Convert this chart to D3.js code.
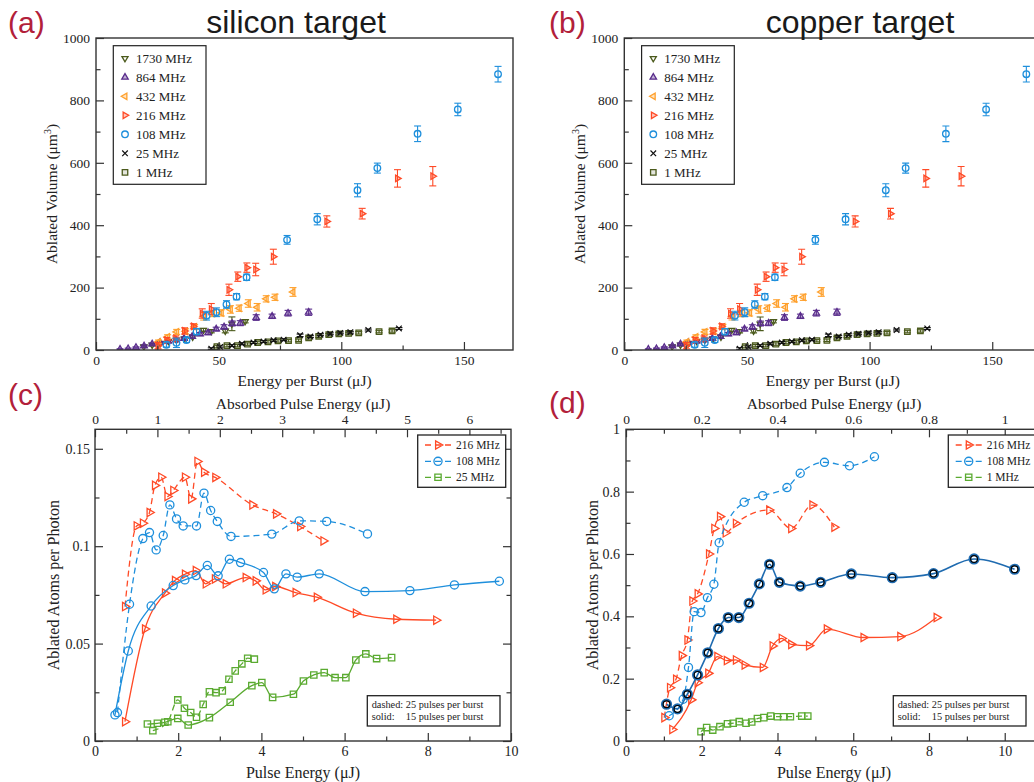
<!DOCTYPE html>
<html><head><meta charset="utf-8">
<script src="https://cdn.jsdelivr.net/npm/d3@7"></script>
<style>
body{margin:0;background:#fff}
svg{display:block}
text{font-family:"Liberation Serif","Times New Roman",serif;fill:#222}
text.sans{font-family:"Liberation Sans",Arial,sans-serif}
</style>
</head><body>
<svg id="chart" width="1034" height="782"></svg>
<script>
// ---------------- Panel (a)/(b): Ablated volume vs energy per burst ----------------
const abSeriesNames = ["1730 MHz","864 MHz","432 MHz","216 MHz","108 MHz","25 MHz","1 MHz"];
const e1730 = [19.5, 22.9, 26.2, 29.5, 32.8, 36.1, 39.4, 43.8, 47.0, 52.7, 55.4, 60.8];
const v1730 = [11, 16, 22, 28, 32, 36, 42, 64, 60, 61, 84, 92];
const r1730 = [3, 3, 3, 4, 4, 4, 5, 5, 5, 6, 22, 5];
const e864 = [9.8, 13.1, 16.3, 19.6, 22.9, 26.1, 29.4, 32.6, 35.9, 39.2, 42.4, 45.7, 49.0, 52.2, 55.5, 58.8, 65.3, 71.8, 78.3, 86.7];
const v864 = [2, 4, 8, 13, 19, 24, 28, 32, 37, 43, 51, 55, 67, 74, 85, 86, 104, 108, 118, 121];
const r864 = [2, 2, 2, 3, 3, 3, 3, 4, 4, 5, 5, 6, 6, 7, 8, 8, 9, 7, 9, 10];
const e432 = [25.5, 29.2, 32.9, 36.5, 40.2, 43.9, 47.5, 51.1, 54.8, 58.4, 62.1, 65.7, 69.4, 73.0, 80.3];
const v432 = [26, 42, 58, 60, 74, 108, 117, 119, 130, 134, 149, 137, 164, 169, 186];
const r432 = [6, 7, 8, 8, 8, 12, 10, 10, 12, 10, 12, 12, 10, 10, 14];
const e216 = [25.3, 28.9, 32.5, 36.1, 39.7, 43.3, 47.0, 54.2, 57.8, 61.5, 65.1, 72.3, 94.1, 108.5, 122.9, 137.3];
const v216 = [14, 32, 37, 61, 76, 117, 131, 193, 235, 264, 258, 299, 412, 437, 550, 557];
const r216 = [10, 8, 8, 10, 8, 15, 18, 18, 15, 15, 20, 24, 18, 17, 28, 31];
const e108 = [28.7, 32.8, 36.9, 41.0, 45.1, 49.1, 53.2, 57.3, 61.4, 77.9, 90.2, 106.6, 114.7, 131.1, 147.5, 163.9];
const v108 = [17, 23, 32, 59, 110, 121, 146, 171, 233, 353, 419, 512, 583, 693, 771, 884];
const r108 = [8, 15, 8, 10, 14, 14, 12, 10, 10, 14, 18, 21, 16, 25, 20, 25];
const e25 = [47.0, 50.6, 55.4, 59.5, 64.2, 68.3, 72.4, 76.5, 83.2, 87.4, 91.5, 95.5, 99.6, 103.7, 111.0, 123.5];
const v25 = [4, 10, 14, 20, 24, 27, 31, 33, 47, 43, 49, 52, 55, 57, 64, 69];
const r25 = [3, 3, 3, 3, 3, 3, 3, 3, 4, 3, 3, 3, 3, 3, 3, 3];
const e1 = [49.3, 53.4, 57.7, 61.8, 65.9, 70.1, 74.2, 78.5, 82.6, 86.7, 90.8, 94.9, 99.0, 103.0, 107.1, 115.4, 120.7];
const v1 = [11, 14, 14, 19, 24, 26, 29, 30, 31, 39, 44, 49, 52, 53, 55, 59, 61];
const r1 = [4, 4, 4, 4, 4, 4, 4, 4, 4, 4, 4, 4, 4, 4, 4, 4, 4];
const abXTicks = [0, 50, 100, 150];
const abYTicks = [0, 200, 400, 600, 800, 1000];

// ---------------- Panel (c): silicon, atoms per photon ----------------
const c216dX = [0.72, 1.00, 1.15, 1.31, 1.44, 1.59, 1.74, 1.88, 2.16, 2.31, 2.46, 2.62, 2.89, 3.78, 4.35, 4.93, 5.49];
const c216dY = [0.069, 0.1104, 0.1118, 0.1173, 0.1312, 0.1354, 0.1255, 0.1286, 0.1354, 0.1243, 0.1435, 0.1380, 0.1353, 0.1212, 0.1166, 0.1101, 0.1027];
const c108dX = [0.54, 0.83, 1.15, 1.31, 1.47, 1.64, 1.80, 1.96, 2.12, 2.44, 2.62, 2.78, 2.94, 3.27, 4.25, 4.91, 5.57, 6.55];
const c108dY = [0.0146, 0.0702, 0.1039, 0.1070, 0.0981, 0.1055, 0.1212, 0.1140, 0.1104, 0.1104, 0.1272, 0.1183, 0.1127, 0.1050, 0.1062, 0.1130, 0.1127, 0.1063];
const c25dX = [1.39, 1.75, 1.99, 2.15, 2.30, 2.44, 2.60, 2.75, 2.91, 3.06, 3.22, 3.37, 3.53, 3.67, 3.83];
const c25dY = [0.0053, 0.0099, 0.0211, 0.0168, 0.0146, 0.0122, 0.0188, 0.0253, 0.0248, 0.0257, 0.0317, 0.0360, 0.0396, 0.0425, 0.0420];
const c216sX = [0.72, 1.20, 1.68, 1.92, 2.16, 2.42, 2.66, 2.88, 3.14, 3.62, 3.86, 4.10, 4.33, 4.82, 5.33, 6.27, 7.24, 8.20];
const c216sY = [0.0099, 0.0575, 0.0759, 0.0824, 0.0856, 0.0875, 0.0807, 0.0832, 0.0807, 0.0839, 0.0822, 0.0776, 0.0793, 0.0762, 0.0738, 0.0656, 0.0625, 0.0620];
const c108sX = [0.48, 0.80, 1.35, 1.88, 2.16, 2.43, 2.70, 2.96, 3.23, 3.50, 4.05, 4.31, 4.59, 4.86, 5.39, 6.49, 7.57, 8.64, 9.72];
const c108sY = [0.0134, 0.0462, 0.0693, 0.0798, 0.0827, 0.0849, 0.0901, 0.0848, 0.0933, 0.0916, 0.0865, 0.0781, 0.0858, 0.0841, 0.0858, 0.0767, 0.0772, 0.0801, 0.0820];
const c25sX = [1.26, 1.50, 1.68, 1.99, 2.24, 2.75, 3.25, 3.77, 4.01, 4.27, 4.77, 5.01, 5.26, 5.51, 5.77, 6.03, 6.27, 6.51, 6.77, 7.13];
const c25sY = [0.0087, 0.0091, 0.0096, 0.0116, 0.0082, 0.0120, 0.0199, 0.0284, 0.0300, 0.0224, 0.0240, 0.0308, 0.0339, 0.0351, 0.0325, 0.0325, 0.0416, 0.0447, 0.0423, 0.0428];
const cLegend = ["216 MHz", "108 MHz", "25 MHz"];
const cXTicks = [0, 2, 4, 6, 8, 10];
const cYTicks = [0, 0.05, 0.1, 0.15];
const cTopTicks = [0, 1, 2, 3, 4, 5, 6];

// ---------------- Panel (d): copper, atoms per photon ----------------
const d216dX = [1.01, 1.16, 1.32, 1.47, 1.62, 1.75, 1.89, 2.19, 2.33, 2.48, 2.63, 2.90, 3.78, 4.36, 4.92, 5.50];
const d216dY = [0.075, 0.171, 0.198, 0.274, 0.324, 0.449, 0.472, 0.600, 0.682, 0.720, 0.668, 0.698, 0.741, 0.682, 0.757, 0.686];
const d108dX = [1.14, 1.51, 1.65, 1.80, 1.98, 2.15, 2.32, 2.46, 3.12, 3.61, 4.25, 4.60, 5.24, 5.90, 6.56];
const d108dY = [0.081, 0.134, 0.236, 0.415, 0.412, 0.460, 0.503, 0.636, 0.766, 0.787, 0.813, 0.859, 0.894, 0.883, 0.912];
const d1dX = [1.98, 2.13, 2.29, 2.48, 2.68, 2.83, 2.99, 3.17, 3.32, 3.47, 3.64, 3.82, 4.00, 4.16, 4.34, 4.64, 4.80];
const d1dY = [0.030, 0.043, 0.035, 0.046, 0.055, 0.057, 0.062, 0.057, 0.061, 0.072, 0.075, 0.080, 0.078, 0.078, 0.078, 0.080, 0.080];
const d216sX = [1.22, 1.72, 1.89, 2.17, 2.41, 2.66, 2.90, 3.13, 3.61, 3.87, 4.11, 4.36, 4.83, 5.30, 6.27, 7.24, 8.20];
const d216sY = [0.037, 0.132, 0.187, 0.217, 0.271, 0.258, 0.260, 0.244, 0.236, 0.305, 0.329, 0.310, 0.306, 0.359, 0.332, 0.335, 0.396];
const d108sX = [1.07, 1.36, 1.62, 1.89, 2.16, 2.44, 2.70, 2.98, 3.25, 3.52, 3.79, 4.05, 4.60, 5.14, 5.95, 7.03, 8.12, 9.19, 10.26];
const d108sY = [0.118, 0.103, 0.150, 0.212, 0.283, 0.361, 0.396, 0.396, 0.442, 0.504, 0.567, 0.509, 0.497, 0.509, 0.536, 0.524, 0.537, 0.584, 0.551];
const dLegend = ["216 MHz", "108 MHz", "1 MHz"];
const dXTicks = [0, 2, 4, 6, 8, 10];
const dYTicks = [0, 0.2, 0.4, 0.6, 0.8, 1];
const dTopTicks = [0, 0.2, 0.4, 0.6, 0.8, 1];

// ---------------- styles ----------------
const COL = {olive:"#4b5a1c", purple:"#5a2d8c", orange:"#ffa12e", red:"#ff4a26", blue:"#1e8fdc", black:"#111", green:"#5aaa30", dblue:"#1f6bb0", frame:"#333"};
const svg = d3.select("#chart");

function symPath(type, size){
  const t = {circle:d3.symbolCircle, tri:d3.symbolTriangle, square:d3.symbolSquare, times:d3.symbolTimes}[type];
  return d3.symbol().type(t).size(size)();
}
function drawMarker(g, x, y, m){
  const rot = m.rot || 0;
  g.append("path").attr("d", symPath(m.type, m.size))
    .attr("transform", `translate(${x},${y}) rotate(${rot})`)
    .attr("fill", m.fill || "none").attr("stroke", m.color).attr("stroke-width", m.sw || 1.3);
}

function axesFrame(g, p, xs, ys, o){
  const h = p.y1 - p.y0;
  g.append("g").attr("transform", `translate(0,${p.y1})`).attr("class","ax")
    .call(d3.axisBottom(xs).tickValues(o.xMajor).tickSize(-8).tickPadding(o.xPad).tickFormat(o.xFmt || d3.format("")));
  g.append("g").attr("transform", `translate(0,${p.y1})`).attr("class","ax")
    .call(d3.axisBottom(xs).tickValues(o.xMinor).tickSize(-4.5).tickFormat(""));
  g.append("g").attr("transform", `translate(${p.x0},0)`).attr("class","ax")
    .call(d3.axisLeft(ys).tickValues(o.yMajor).tickSize(-8).tickPadding(o.yPad).tickFormat(o.yFmt || d3.format("")));
  g.append("g").attr("transform", `translate(${p.x0},0)`).attr("class","ax")
    .call(d3.axisLeft(ys).tickValues(o.yMinor).tickSize(-4.5).tickFormat(""));
  if (o.right){
    g.append("g").attr("transform", `translate(${p.x1},0)`).attr("class","ax")
      .call(d3.axisRight(ys).tickValues(o.yMajor).tickSize(-8).tickFormat(""));
    g.append("g").attr("transform", `translate(${p.x1},0)`).attr("class","ax")
      .call(d3.axisRight(ys).tickValues(o.yMinor).tickSize(-4.5).tickFormat(""));
  }
  if (o.top){
    g.append("g").attr("transform", `translate(0,${p.y0})`).attr("class","ax")
      .call(d3.axisTop(o.top.scale).tickValues(o.top.major).tickSize(-8).tickPadding(5).tickFormat(o.top.fmt));
    g.append("g").attr("transform", `translate(0,${p.y0})`).attr("class","ax")
      .call(d3.axisTop(o.top.scale).tickValues(o.top.minor).tickSize(-4.5).tickFormat(""));
  }
  g.selectAll(".ax .domain").remove();
  g.selectAll(".ax line").attr("stroke", COL.frame).attr("stroke-width", 1.2);
  g.selectAll(".ax text").attr("font-size", o.fs).attr("fill", "#222");
  g.append("rect").attr("x", p.x0).attr("y", p.y0).attr("width", p.x1 - p.x0).attr("height", h)
    .attr("fill", "none").attr("stroke", COL.frame).attr("stroke-width", 1.4);
}

function rng(a, b, s){ const r=[]; for(let v=a; v<=b+1e-9; v+=s) r.push(+v.toFixed(4)); return r; }
const numFmt = d => d === 0 ? "0" : String(+d.toFixed(3));

// ---------- panels (a) and (b) ----------
const abSeries = [
  {name:abSeriesNames[0], x:e1730, y:v1730, e:r1730, m:{type:"tri", size:16, rot:180, color:COL.olive}},
  {name:abSeriesNames[1], x:e864,  y:v864,  e:r864,  m:{type:"tri", size:18, rot:0, color:COL.purple, fill:"rgba(90,45,140,0.35)"}},
  {name:abSeriesNames[2], x:e432,  y:v432,  e:r432,  m:{type:"tri", size:18, rot:-90, color:COL.orange, fill:"rgba(255,161,46,0.3)"}},
  {name:abSeriesNames[3], x:e216,  y:v216,  e:r216,  m:{type:"tri", size:18, rot:90, color:COL.red, fill:"rgba(255,74,38,0.3)"}},
  {name:abSeriesNames[4], x:e108,  y:v108,  e:r108,  m:{type:"circle", size:34, color:COL.blue}},
  {name:abSeriesNames[5], x:e25,   y:v25,   e:r25,   m:{type:"times", size:22, color:COL.black, sw:1.2}},
  {name:abSeriesNames[6], x:e1,    y:v1,    e:r1,    m:{type:"square", size:30, color:COL.olive, fill:"rgba(75,90,28,0.15)"}}
];
const drawOrder = [6,5,0,1,2,3,4];

function volumePanel(p, title, titleX, label, labelX){
  const g = svg.append("g");
  const xs = d3.scaleLinear().domain([0,170]).range([p.x0, p.x1]);
  const ys = d3.scaleLinear().domain([0,1000]).range([p.y1, p.y0]);
  const clipId = "clip" + label.replace(/\W/g,"");
  svg.append("clipPath").attr("id", clipId).append("rect")
    .attr("x", p.x0).attr("y", p.y0 - 2).attr("width", p.x1 - p.x0).attr("height", p.y1 - p.y0 + 2);
  const dg = g.append("g").attr("clip-path", `url(#${clipId})`);
  drawOrder.forEach(i => {
    const s = abSeries[i];
    s.x.forEach((xv, k) => {
      const cx = xs(xv), cy = ys(s.y[k]), y0 = ys(s.y[k] - s.e[k]), y1 = ys(s.y[k] + s.e[k]);
      dg.append("line").attr("x1",cx).attr("x2",cx).attr("y1",y0).attr("y2",y1).attr("stroke",s.m.color).attr("stroke-width",1.1);
      [y0,y1].forEach(yy => dg.append("line").attr("x1",cx-3.5).attr("x2",cx+3.5).attr("y1",yy).attr("y2",yy).attr("stroke",s.m.color).attr("stroke-width",1.1));
      drawMarker(dg, cx, cy, s.m);
    });
  });
  axesFrame(g, p, xs, ys, {xMajor:abXTicks, xMinor:rng(25,175,50).filter(v=>v<170), yMajor:abYTicks, yMinor:rng(100,900,200),
    xPad:5, yPad:6, fs:13.5});
  const lx = p.x0 + 17.3, ly = 45.7;
  g.append("rect").attr("x", lx).attr("y", ly).attr("width", 92.7).attr("height", 138.6)
    .attr("fill", "#fff").attr("stroke", "#222").attr("stroke-width", 1.2);
  abSeries.forEach((s, i) => {
    const yy = 58.3 + 19 * i;
    drawMarker(g, lx + 11.7, yy, s.m);
    g.append("text").attr("x", lx + 22.7).attr("y", yy).attr("dy", "0.35em").attr("font-size", 13).text(s.name);
  });
  g.append("text").attr("x", p.x0 + 208.5).attr("y", 386).attr("text-anchor","middle")
    .attr("font-size", 15.5).text("Energy per Burst (μJ)");
  const yl = g.append("text").attr("transform", `translate(${p.x0 - 39},${(p.y0+p.y1)/2}) rotate(-90)`)
    .attr("text-anchor","middle").attr("font-size", 15.5);
  yl.append("tspan").text("Ablated Volume (μm");
  yl.append("tspan").attr("font-size", 10).attr("dy", -6).text("3");
  yl.append("tspan").attr("dy", 6).text(")");
  g.append("text").attr("class","sans").attr("x", titleX).attr("y", 32.5).attr("text-anchor","middle")
    .attr("font-size", 32).style("fill", "#1a1a1a").text(title);
  g.append("text").attr("class","sans").attr("x", labelX).attr("y", 33)
    .attr("font-size", 30).style("fill","#b2203a").text(label);
}

volumePanel({x0:96, y0:38, x1:513, y1:350}, "silicon target", 296, "(a)", 8);
volumePanel({x0:624.3, y0:38, x1:1041.3, y1:350}, "copper target", 860, "(b)", 549);

// ---------- panels (c) and (d) ----------
function atomsPanel(p, o){
  const g = svg.append("g");
  const xs = d3.scaleLinear().domain(o.xDom).range([p.x0, p.x1]);
  const ys = d3.scaleLinear().domain(o.yDom).range([p.y1, p.y0]);
  const ts = d3.scaleLinear().domain(o.topDom).range([p.x0, p.x1]);
  const line = d3.line().x(d => xs(d[0])).y(d => ys(d[1])).curve(d3.curveMonotoneX);
  const dg = g.append("g");
  o.series.forEach(s => {
    const pts = s.x.map((v, k) => [v, s.y[k]]);
    dg.append("path").attr("d", line(pts)).attr("fill","none").attr("stroke", s.lineColor || s.color)
      .attr("stroke-width", s.lw || 1.3).attr("stroke-dasharray", s.dash ? "6,4" : null);
    pts.forEach(d => {
      if (s.ring){
        dg.append("circle").attr("cx", xs(d[0])).attr("cy", ys(d[1])).attr("r", 4.3).attr("fill","none").attr("stroke", s.color).attr("stroke-width", 2.6);
        dg.append("circle").attr("cx", xs(d[0])).attr("cy", ys(d[1])).attr("r", 3.4).attr("fill","none").attr("stroke", "#000").attr("stroke-width", 1.2);
      } else drawMarker(dg, xs(d[0]), ys(d[1]), s.m);
    });
  });
  axesFrame(g, p, xs, ys, {xMajor:o.xMajor, xMinor:o.xMinor, yMajor:o.yMajor, yMinor:o.yMinor, xPad:5, yPad:o.yPad,
    xFmt:numFmt, yFmt:numFmt, fs:14, right:true,
    top:{scale:ts, major:o.topMajor, minor:o.topMinor, fmt:numFmt}});
  g.selectAll(".ax text").filter(function(){ return this.parentNode.parentNode.getAttribute("transform") === `translate(0,${p.y0})`; })
    .attr("font-size", 13.5);
  const L = o.legend;
  g.append("rect").attr("x", L.x).attr("y", 435).attr("width", L.w).attr("height", 52.3)
    .attr("fill","#fff").attr("stroke","#222").attr("stroke-width",1.3);
  o.legendSeries.forEach((s, i) => {
    const yy = [445, 461.3, 477.3][i];
    g.append("line").attr("x1", L.lx).attr("x2", L.lx + 26).attr("y1", yy).attr("y2", yy)
      .attr("stroke", s.color).attr("stroke-width", 1.3).attr("stroke-dasharray", "6,4");
    drawMarker(g, L.lx + 13, yy, s.m);
    g.append("text").attr("x", L.lx + 31).attr("y", yy).attr("dy","0.35em").attr("font-size", 11.5).text(o.legendNames[i]);
  });
  const N = o.note;
  g.append("rect").attr("x", N.x).attr("y", 695.7).attr("width", 132.7).attr("height", 30.3)
    .attr("fill","#fff").attr("stroke","#222").attr("stroke-width",1.3);
  [["dashed:", "25 pulses per burst", 708.3], ["solid:", "15 pulses per burst", 720.3]].forEach(r => {
    g.append("text").attr("x", N.x + 4.4).attr("y", r[2]).attr("font-size", 10.3).text(r[0]);
    g.append("text").attr("x", N.x + 38.5).attr("y", r[2]).attr("font-size", 10.3).text(r[1]);
  });
  g.append("text").attr("x", p.x0 + 208).attr("y", 778).attr("text-anchor","middle").attr("font-size", 16).text("Pulse Energy (μJ)");
  g.append("text").attr("x", p.x0 + 208).attr("y", 408.5).attr("text-anchor","middle").attr("font-size", 15.5).text("Absorbed Pulse Energy (μJ)");
  g.append("text").attr("transform", `translate(${o.ylx},${(p.y0+p.y1)/2}) rotate(-90)`).attr("text-anchor","middle")
    .attr("font-size", 16).text("Ablated Atoms per Photon");
  g.append("text").attr("class","sans").attr("x", o.labX).attr("y", o.labY)
    .attr("font-size", 30).style("fill","#b2203a").text(o.label);
}

const mTriR = c => ({type:"tri", size:30, rot:90, color:c});
const mCirc = c => ({type:"circle", size:52, color:c});
const mSq = c => ({type:"square", size:40, color:c});

atomsPanel({x0:95, y0:429.3, x1:511, y1:741}, {
  xDom:[0,10], yDom:[0,0.16], topDom:[0,10/1.5],
  xMajor:cXTicks, xMinor:rng(1,9,2), yMajor:cYTicks, yMinor:[0.025,0.075,0.125], topMajor:cTopTicks, topMinor:rng(0.5,6.5,1),
  yPad:5, ylx:58.5,
  series:[
    {x:c25sX, y:c25sY, color:COL.green, m:mSq(COL.green)},
    {x:c25dX, y:c25dY, color:COL.green, dash:true, m:mSq(COL.green)},
    {x:c216sX, y:c216sY, color:COL.red, m:mTriR(COL.red)},
    {x:c108sX, y:c108sY, color:COL.blue, m:mCirc(COL.blue)},
    {x:c216dX, y:c216dY, color:COL.red, dash:true, m:mTriR(COL.red)},
    {x:c108dX, y:c108dY, color:COL.blue, dash:true, m:mCirc(COL.blue)}
  ],
  legendSeries:[{color:COL.red, m:mTriR(COL.red)}, {color:COL.blue, m:mCirc(COL.blue)}, {color:COL.green, m:mSq(COL.green)}],
  legendNames:cLegend,
  legend:{x:417.7, w:88, lx:425},
  note:{x:367.3},
  label:"(c)", labX:8, labY:405
});

atomsPanel({x0:626, y0:429.3, x1:1042.6, y1:741}, {
  xDom:[0,11], yDom:[0,1], topDom:[0,1.1],
  xMajor:dXTicks, xMinor:rng(1,11,2), yMajor:dYTicks, yMinor:rng(0.1,0.9,0.2), topMajor:dTopTicks, topMinor:rng(0.1,1.1,0.2),
  yPad:6, ylx:598,
  series:[
    {x:d1dX, y:d1dY, color:COL.green, dash:true, m:mSq(COL.green)},
    {x:d216sX, y:d216sY, color:COL.red, m:mTriR(COL.red)},
    {x:d216dX, y:d216dY, color:COL.red, dash:true, m:mTriR(COL.red)},
    {x:d108dX, y:d108dY, color:COL.blue, dash:true, m:mCirc(COL.blue)},
    {x:d108sX, y:d108sY, color:COL.dblue, lineColor:COL.dblue, ring:true, lw:1.6}
  ],
  legendSeries:[{color:COL.red, m:mTriR(COL.red)}, {color:COL.blue, m:mCirc(COL.blue)}, {color:COL.green, m:mSq(COL.green)}],
  legendNames:dLegend,
  legend:{x:948.3, w:100, lx:955.7},
  note:{x:893.3},
  label:"(d)", labX:549, labY:413
});
</script>
</body></html>
